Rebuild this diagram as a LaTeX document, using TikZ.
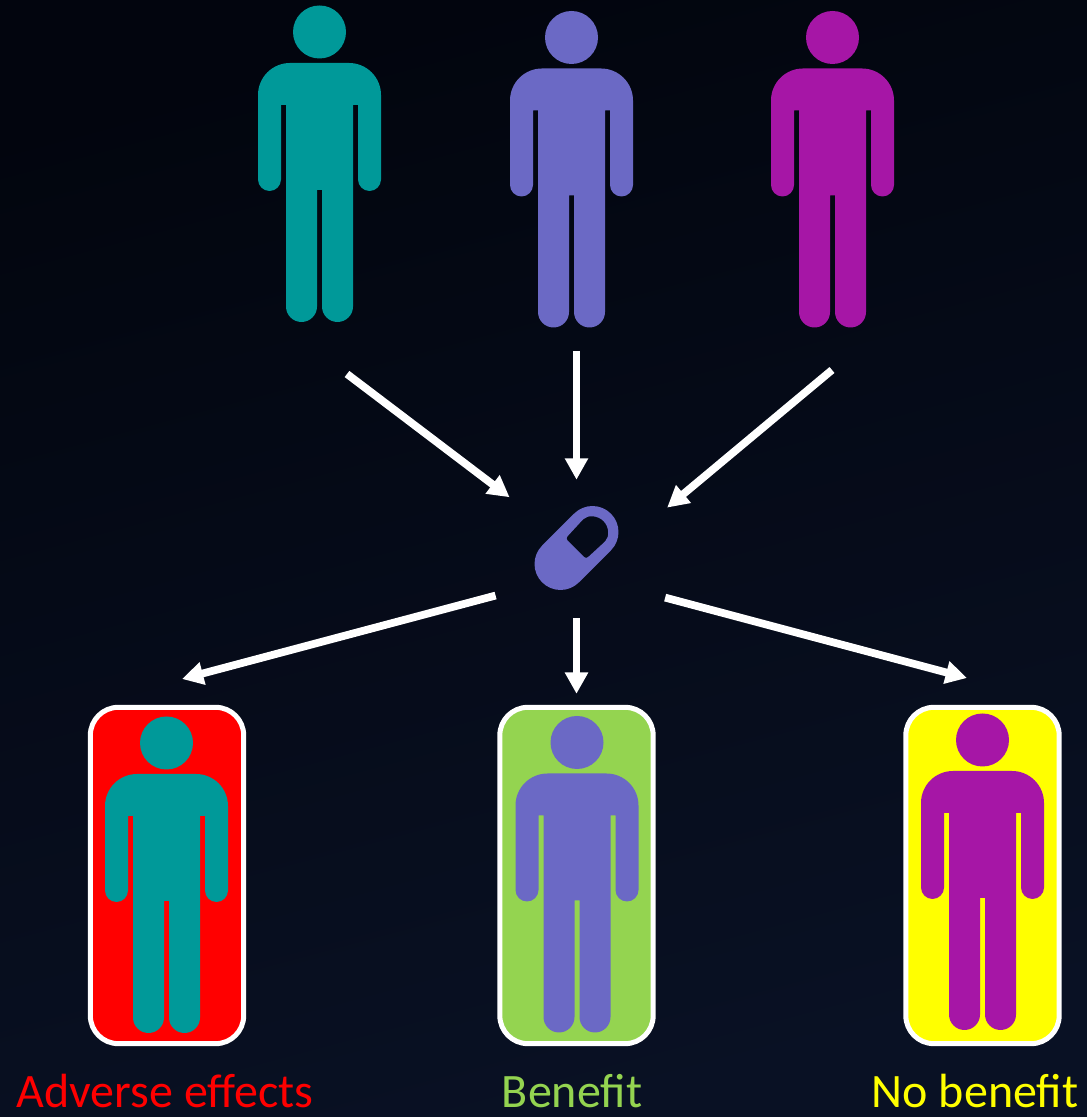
\documentclass[tikz,border=0pt]{standalone}
\usepackage{fontspec}
\setmainfont{Carlito}
\usetikzlibrary{arrows.meta,positioning}
\definecolor{cTeal}{RGB}{0,153,153}
\definecolor{cBlue}{RGB}{107,105,197}
\definecolor{cPurple}{RGB}{166,22,166}
\definecolor{cGreen}{RGB}{148,212,80}
\definecolor{cRed}{RGB}{255,0,0}
\definecolor{cYellow}{RGB}{255,255,0}
\definecolor{cBgTop}{RGB}{2,5,14}
\definecolor{cBgBottom}{RGB}{9,17,36}
\tikzset{
  flow/.style={draw=white, line width=5.8pt, -{Triangle[length=16pt,width=16.5pt]}},
  patientbox/.style={draw=white, line width=3.75pt, rounded corners=21pt, inner sep=0pt,
    minimum width=115pt, minimum height=252.25pt},
  outcome/.style={font=\fontsize{36}{40}\selectfont, anchor=base, inner sep=0pt},
  pics/person/.style={code={
    \fill[#1] (0,0) circle (26.5);
    \fill[#1] (-61.5,-63) arc[start angle=180,end angle=90,radius=32] -- (29.5,-31)
      arc[start angle=90,end angle=0,radius=32] -- (61.5,-147.5)
      arc[start angle=0,end angle=-180,radius=11.5] -- (38.5,-73) -- (33.5,-73) -- (33.5,-274.5)
      arc[start angle=0,end angle=-180,radius=15.5] -- (2.5,-158) -- (-2.5,-158) -- (-2.5,-274.5)
      arc[start angle=0,end angle=-180,radius=15.5] -- (-33.5,-73) -- (-38.5,-73) -- (-38.5,-147.5)
      arc[start angle=0,end angle=-180,radius=11.5] -- cycle;
  }}
}
\begin{document}
\begin{tikzpicture}[x=0.75pt,y=0.75pt]
  \useasboundingbox (0,0) rectangle (1087,1117);
  \shade[top color=cBgTop, bottom color=cBgBottom, shading angle=15] (0,0) rectangle (1087,1117);
  % people before treatment
  \pic at (319.5,1085) {person=cTeal};
  \pic at (571.5,1079.5) {person=cBlue};
  \pic at (832.5,1079.5) {person=cPurple};
  \coordinate (tealOut) at (347,743);
  \coordinate (blueOut) at (576.5,766);
  \coordinate (purpleOut) at (832,747);
  % pill
  \node[minimum width=63pt, minimum height=55.5pt, inner sep=0pt] (pill) at (576.5,569) {};
  \begin{scope}[shift={(pill.center)}, rotate=45]
    \fill[cBlue, even odd rule] (-22.6,-26) -- (22.6,-26) arc[start angle=-90,end angle=90,radius=26]
      -- (-22.6,26) arc[start angle=90,end angle=270,radius=26] -- cycle
      [rounded corners=2] (-1,-14.5) -- (22.6,-15.5) arc[start angle=-90,end angle=90,radius=15.5] -- (-1,14.5) -- cycle;
  \end{scope}
  % outcome boxes
  \node[patientbox, fill=cRed] (redBox) at (167,241.5) {};
  \node[patientbox, fill=cGreen] (greenBox) at (576.5,241.5) {};
  \node[patientbox, fill=cYellow] (yellowBox) at (982.5,241.5) {};
  \pic at (166.5,374) {person=cTeal};
  \pic at (577,374.5) {person=cBlue};
  \pic at (982.5,377) {person=cPurple};
  \coordinate (redIn) at (182,438);
  \coordinate (yellowIn) at (967,439);
  % arrows
  \draw[flow, shorten >=63pt] (tealOut) -- (pill.center);
  \draw[flow, shorten >=23.25pt] (blueOut) -- (pill.north);
  \draw[flow, shorten >=47.25pt] (purpleOut) -- (pill.east);
  \draw[flow, shorten <=30pt] (pill.south west) -- (redIn);
  \draw[flow, shorten <=24.75pt, shorten >=8.25pt] (pill.south) -- (greenBox.north);
  \draw[flow, shorten <=36pt] (pill.south east) -- (yellowIn);
  % labels
  \node[outcome, text=cRed] (redLabel) at (165,9) {Adverse effects};
  \node[outcome, text=cGreen] (greenLabel) at (572,9) {Benefit};
  \node[outcome, text=cYellow] (yellowLabel) at (975,9) {No benefit};
\end{tikzpicture}
\end{document}
